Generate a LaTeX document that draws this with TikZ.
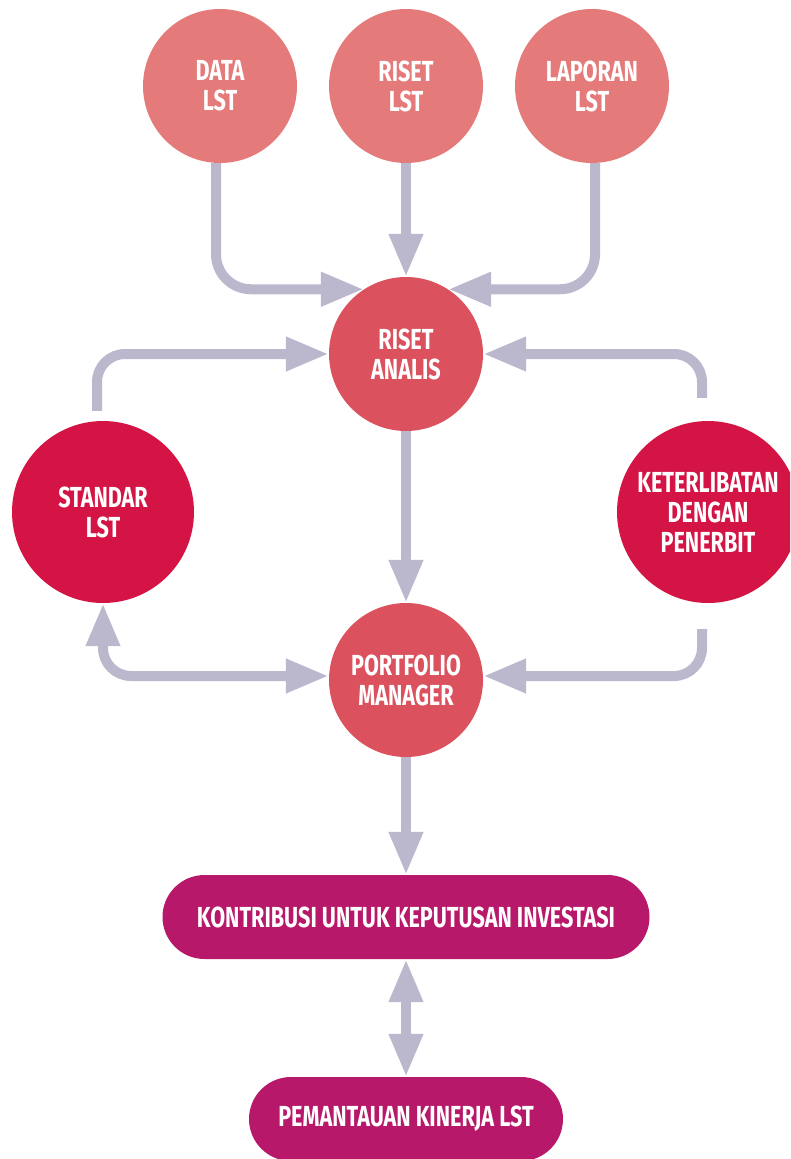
\documentclass[tikz,border=0pt]{standalone}
\usepackage{fontspec}
\setmainfont{Fira Sans}[FakeStretch=0.745,BoldFont={Fira Sans Bold}]
\usetikzlibrary{arrows.meta}
\definecolor{salmon}{HTML}{E47B7A}
\definecolor{analisc}{HTML}{DB525E}
\definecolor{crimson}{HTML}{D31444}
\definecolor{magentac}{HTML}{B8186A}
\definecolor{arrowc}{HTML}{BBB8CE}
\tikzset{
  txt/.style={text=white,font=\bfseries\fontsize{29}{30}\selectfont,align=center,inner sep=0pt},
  topc/.style={txt,circle,fill=salmon,minimum size=154pt},
  midc/.style={txt,circle,fill=analisc,minimum size=154pt},
  sidec/.style={txt,circle,fill=crimson,minimum size=182pt},
  pill/.style={txt,rectangle,rounded corners=42pt,fill=magentac,minimum height=84pt},
  conn/.style={draw=arrowc,line width=10pt,-{Triangle[width=32pt,length=43pt]}},
  conn2/.style={draw=arrowc,line width=10pt,{Triangle[width=32pt,length=43pt]}-{Triangle[width=32pt,length=43pt]}}
}
\begin{document}
\begin{tikzpicture}[x=1pt,y=-1pt]
\useasboundingbox (0,0) rectangle (790,1159);
\clip (0,0) rectangle (790,1159);
\node[topc] (data) at (220,86) {DATA\\LST};
\node[topc] (risetlst) at (406,86) {RISET\\LST};
\node[topc] (laporan) at (592,86) {LAPORAN\\LST};
\node[midc] (analis) at (406,354) {RISET\\ANALIS};
\node[midc] (portfolio) at (406,680) {PORTFOLIO\\MANAGER};
\node[sidec] (standar) at (103,512) {STANDAR\\LST};
\node[sidec] (keter) at (708,512) {KETERLIBATAN\\DENGAN\\PENERBIT};
\node[pill,minimum width=487pt] (kontribusi) at (406,917) {KONTRIBUSI UNTUK KEPUTUSAN INVESTASI};
\node[pill,minimum width=314pt] (pemantauan) at (406,1119) {PEMANTAUAN KINERJA LST};

\draw[conn,rounded corners=35pt] ([xshift=-4pt]data.south) |- (analis.123);
\draw[conn] (risetlst.south) -- (analis.north);
\draw[conn,rounded corners=35pt] ([xshift=3pt]laporan.south) |- (analis.57);
\draw[conn,rounded corners=28pt] ([xshift=-6pt,yshift=10pt]standar.north) |- (analis.west);
\draw[conn,rounded corners=28pt] ([xshift=-6pt,yshift=23pt]keter.north) |- (analis.east);
\draw[conn] (analis.south) -- (portfolio.north);
\draw[conn2,rounded corners=28pt] (standar.south) |- ([yshift=4pt]portfolio.west);
\draw[conn,rounded corners=28pt] ([xshift=-6pt,yshift=-26pt]keter.south) |- ([yshift=4pt]portfolio.east);
\draw[conn] (portfolio.south) -- (kontribusi.north);
\draw[conn2] (kontribusi.south) -- (pemantauan.north);
\end{tikzpicture}
\end{document}
